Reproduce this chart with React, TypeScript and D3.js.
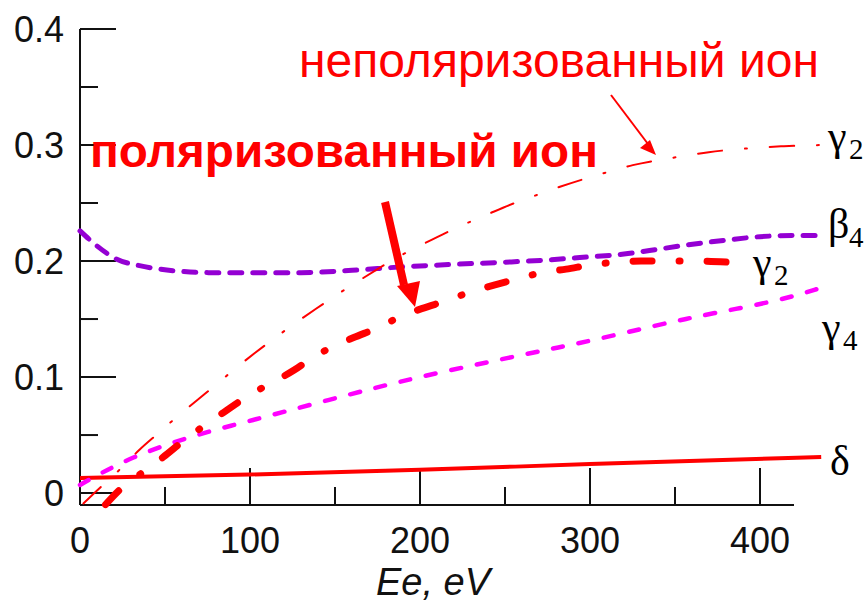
import React from "react";
import * as d3 from "d3";

// energy (eV) and anisotropy parameters
const unpolE = [2, 12, 25, 35, 45, 57, 69, 78, 91, 103, 114, 126, 139, 151, 163, 176, 186, 201, 216, 228, 241, 255, 269, 282, 297, 311, 325, 340, 353, 369, 390, 412, 436];
const unpolGamma2 = [-0.009, 0.005, 0.022, 0.038, 0.05, 0.066, 0.08, 0.091, 0.107, 0.121, 0.133, 0.146, 0.159, 0.171, 0.182, 0.194, 0.203, 0.214, 0.225, 0.233, 0.241, 0.25, 0.257, 0.264, 0.271, 0.277, 0.283, 0.287, 0.29, 0.294, 0.297, 0.299, 0.3];

const polE = [15, 25, 37, 49, 60, 72, 85, 97, 110, 126, 135, 147, 161, 176, 187, 201, 216, 229, 243, 258, 272, 286, 302, 316, 330, 345, 360, 382];
const polGamma2 = [-0.01, 0.005, 0.018, 0.031, 0.044, 0.057, 0.07, 0.082, 0.093, 0.106, 0.115, 0.125, 0.134, 0.143, 0.151, 0.159, 0.166, 0.173, 0.179, 0.185, 0.19, 0.193, 0.197, 0.199, 0.2, 0.2, 0.2, 0.199];

const beta4E = [0, 10, 21, 35, 47, 60, 76, 100, 130, 160, 190, 218, 250, 276, 294, 320, 335, 353, 380, 400, 420, 436];
const beta4 = [0.226, 0.213, 0.202, 0.196, 0.193, 0.191, 0.19, 0.19, 0.19, 0.192, 0.195, 0.197, 0.199, 0.201, 0.203, 0.206, 0.209, 0.213, 0.218, 0.221, 0.222, 0.222];

const gamma4E = [0, 12, 31, 55, 78, 102, 125, 161, 188, 218, 247, 276, 300, 340, 372, 412, 436];
const gamma4 = [0.007, 0.017, 0.031, 0.044, 0.054, 0.063, 0.072, 0.086, 0.096, 0.106, 0.115, 0.124, 0.131, 0.145, 0.155, 0.166, 0.177];

const deltaE = [0, 100, 200, 300, 436];
const delta = [0.013, 0.016, 0.02, 0.025, 0.031];

const xMajor = [100, 200, 300, 400];
const xMinor = [50, 150, 250, 350];
const xLabels = [0, 100, 200, 300, 400];
const yMajor = [0, 0.1, 0.2, 0.3, 0.4];
const yMinor = [0.05, 0.15, 0.25, 0.35];

const width = 867;
const height = 602;

const x = d3.scaleLinear().domain([0, 420]).range([80, 794]);
const y = d3.scaleLinear().domain([-0.0103, 0.4]).range([505, 29]);

const sans = "Arial, 'Liberation Sans', Helvetica, sans-serif";
const serifStyle = { fontFamily: '"Liberation Serif", "DejaVu Serif", serif' };

function path(xs: number[], ys: number[], curve: d3.CurveFactory = d3.curveMonotoneX) {
  const line = d3
    .line<number>()
    .x((d, i) => x(xs[i]))
    .y((d) => y(d))
    .curve(curve);
  return line(ys) || "";
}

function Greek({ gx, gy, letter, sub }: { gx: number; gy: number; letter: string; sub?: string }) {
  return (
    <g fill="#000">
      <text x={gx} y={gy} fontSize={42} style={serifStyle}>{letter}</text>
      {sub && (
        <text x={gx + 21} y={gy + 9} fontSize={29} style={serifStyle}>{sub}</text>
      )}
    </g>
  );
}

export default function App() {
  return (
    <svg
      width={width}
      height={height}
      style={{ position: "absolute", left: 0, top: 0, background: "#fff" }}
    >
      {/* axes */}
      <g stroke="#111" strokeWidth={2} fill="none">
        <line x1={x(0)} y1={y(0.4)} x2={x(0)} y2={y.range()[0]} />
        <line x1={x(0)} y1={y.range()[0]} x2={x(420)} y2={y.range()[0]} />
        {yMajor.map((v) => (
          <line key={"ym" + v} x1={x(0)} x2={x(0) + 36} y1={y(v)} y2={y(v)} />
        ))}
        {yMinor.map((v) => (
          <line key={"yn" + v} x1={x(0)} x2={x(0) + 18} y1={y(v)} y2={y(v)} />
        ))}
        {xMajor.map((v) => (
          <line key={"xm" + v} x1={x(v)} x2={x(v)} y1={y.range()[0]} y2={y.range()[0] - 37} />
        ))}
        {xMinor.map((v) => (
          <line key={"xn" + v} x1={x(v)} x2={x(v)} y1={y.range()[0]} y2={y.range()[0] - 18} />
        ))}
      </g>
      <g fontFamily={sans} fontSize={36} fill="#111">
        {yMajor.map((v) => (
          <text key={"yl" + v} x={64} y={y(v) + 13} textAnchor="end">
            {v === 0 ? "0" : v.toFixed(1)}
          </text>
        ))}
        {xLabels.map((v) => (
          <text key={"xl" + v} x={x(v)} y={553} textAnchor="middle">
            {v}
          </text>
        ))}
        <text x={433} y={595} textAnchor="middle" fontStyle="italic" fontSize={38}>
          Ee, eV
        </text>
      </g>

      {/* curves */}
      <path d={path(deltaE, delta)} fill="none" stroke="#ff0000" strokeWidth={4} />
      <path
        d={path(gamma4E, gamma4, d3.curveBasis)}
        fill="none"
        stroke="#ff00ff"
        strokeWidth={4.5}
        strokeDasharray="10,16"
        strokeLinecap="round"
      />
      <path
        d={path(beta4E, beta4)}
        fill="none"
        stroke="#9400d3"
        strokeWidth={5}
        strokeDasharray="12,11"
        strokeLinecap="round"
      />
      <path
        d={path(polE, polGamma2)}
        fill="none"
        stroke="#ff0000"
        strokeWidth={7}
        strokeDasharray="19,27,1,27"
        strokeLinecap="round"
      />
      <path
        d={path(unpolE, unpolGamma2, d3.curveBasis)}
        fill="none"
        stroke="#ff0000"
        strokeWidth={2}
        strokeDasharray="24,23,2,23"
        strokeLinecap="round"
      />

      {/* curve labels */}
      <Greek gx={828} gy={150} letter="γ" sub="2" />
      <Greek gx={828} gy={238} letter="β" sub="4" />
      <Greek gx={753} gy={276} letter="γ" sub="2" />
      <Greek gx={822} gy={341} letter="γ" sub="4" />
      <Greek gx={830} gy={475} letter="δ" />

      {/* annotations */}
      <text
        x={299}
        y={77}
        fontFamily={sans}
        fontSize={48}
        fill="#ff0000"
        textLength={520}
        lengthAdjust="spacingAndGlyphs"
      >
        неполяризованный ион
      </text>
      <line x1={611} y1={95} x2={648} y2={144} stroke="#ff0000" strokeWidth={2} />
      <polygon points="656,155 640,148 650,140" fill="#ff0000" />

      <text
        x={90}
        y={167}
        fontFamily={sans}
        fontSize={46}
        fontWeight="bold"
        fill="#ff0000"
        textLength={508}
        lengthAdjust="spacingAndGlyphs"
      >
        поляризованный ион
      </text>
      <line x1={385} y1={202} x2={404} y2={285} stroke="#ff0000" strokeWidth={8} />
      <polygon points="415,307 397,286 420,281" fill="#ff0000" />
    </svg>
  );
}
